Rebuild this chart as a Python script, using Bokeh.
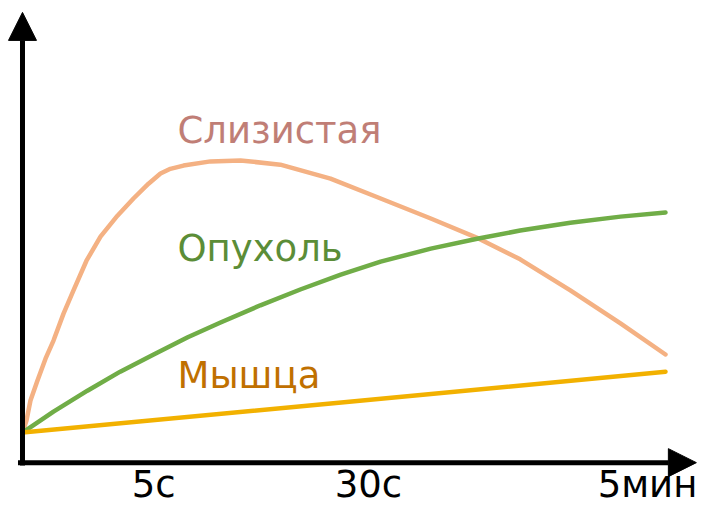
from bokeh.plotting import figure
from bokeh.models import Range1d, Arrow, NormalHead, ColumnDataSource
from bokeh.core.properties import value
from bokeh.embed import file_html
from bokeh.resources import INLINE

# ---- data (x: time progress 0..100, y: signal level) ----
mucosa_x = [0, 0.62, 1.24, 2.33, 3.58, 4.82, 6.38, 7.93, 9.95, 12.13, 14.77, 17.26, 19.6,
            21.46, 23.0, 25.04, 29.24, 33.9, 40.1, 47.9, 55.7, 63.5, 70.9, 77.4, 85.2, 93.0, 100]
mucosa_y = [9.69, 12.28, 16.6, 20.9, 25.6, 29.5, 35.3, 40.3, 46.7, 51.9, 56.4, 60.1, 63.3,
            65.5, 66.5, 67.2, 68.1, 68.3, 67.4, 64.4, 60.1, 55.8, 51.5, 47.0, 40.3, 33.2, 26.5]

tumor_x = [0, 4.82, 10.1, 15.2, 20.4, 25.7, 30.8, 37.0, 43.2, 49.5, 55.7, 63.5,
           70.9, 77.4, 85.2, 93.0, 100]
tumor_y = [9.69, 14.2, 18.7, 22.8, 26.5, 30.2, 33.4, 37.1, 40.5, 43.7, 46.5, 49.3,
           51.5, 53.2, 54.9, 56.2, 57.1]

muscle_x = [0, 50, 100]
muscle_y = [9.69, 16.2, 22.8]

series_names = ["Слизистая", "Опухоль", "Мышца"]
label_x = [24.1, 24.1, 24.1]
label_y = [74.75, 49.44, 22.08]

tick_positions = [20.4, 53.8, 97.2]
tick_labels = ["5с", "30с", "5мин"]
tick_y = [-1.5, -1.5, -1.5]

axis_level = 3.2          # height of the time axis
x_axis_span = (-0.7, 104.8)
y_axis_span = (2.6, 100.2)

# ---- styles ----
line_colors = ["#F4B183", "#70AD47", "#F2B100"]
label_colors = ["#C07E76", "#5B8D37", "#C07000"]
FONT = "DejaVu Sans"

p = figure(width=697, height=506, output_backend="svg", toolbar_location=None,
           x_range=Range1d(-3.421, 104.977), y_range=Range1d(-6.247, 102.76),
           x_axis_location=None, y_axis_location=None, min_border=0,
           outline_line_color=None)
p.grid.visible = False
p.background_fill_color = "white"
p.border_fill_color = "white"

p.line(mucosa_x, mucosa_y, line_color=line_colors[0], line_width=4.5,
       line_cap="round", line_join="round")
p.line(tumor_x, tumor_y, line_color=line_colors[1], line_width=4.5,
       line_cap="round", line_join="round")
p.line(muscle_x, muscle_y, line_color=line_colors[2], line_width=4.5,
       line_cap="round", line_join="round")

lab_src = ColumnDataSource(dict(x=label_x, y=label_y, t=series_names, c=label_colors))
p.text(x="x", y="y", text="t", text_color="c", source=lab_src,
       text_font=value(FONT), text_font_size="37px",
       text_align="left", text_baseline="middle")

tick_src = ColumnDataSource(dict(x=tick_positions, y=tick_y, t=tick_labels))
p.text(x="x", y="y", text="t", source=tick_src, text_color="black",
       text_font=value(FONT), text_font_size="37px",
       text_align="center", text_baseline="middle")

# axes with arrow heads
p.add_layout(Arrow(x_start=x_axis_span[0], y_start=axis_level, x_end=x_axis_span[1], y_end=axis_level,
                   line_width=5, line_color="black",
                   end=NormalHead(size=28, fill_color="black", line_color="black", line_width=1)))
p.add_layout(Arrow(x_start=0, y_start=y_axis_span[0], x_end=0, y_end=y_axis_span[1],
                   line_width=5, line_color="black",
                   end=NormalHead(size=28, fill_color="black", line_color="black", line_width=1)))

open("out.html", "w").write(file_html(p, INLINE))
